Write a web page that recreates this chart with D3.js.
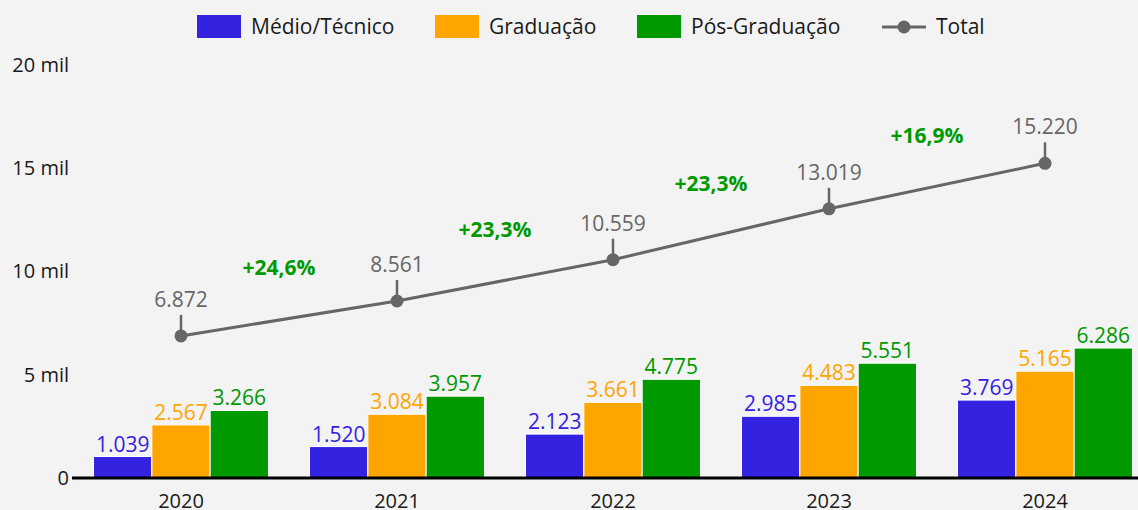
<!DOCTYPE html>
<html lang="pt">
  <head>
    <meta charset="utf-8"/>
    <title>Total por nível</title>
    <script src="https://cdn.jsdelivr.net/npm/d3@7"></script>
    <style>
      body { margin: 0; background: #f3f3f3; }
      svg { display: block; font-family: "Open Sans", "Noto Sans", sans-serif; }
    </style>
  </head>
  <body>
    <div id="chart"></div>
    <script type="text/javascript">

      // data
      var years = ["2020", "2021", "2022", "2023", "2024"];
      var series = ["Médio/Técnico", "Graduação", "Pós-Graduação"];
      var medio = [1039, 1520, 2123, 2985, 3769];
      var graduacao = [2567, 3084, 3661, 4483, 5165];
      var posGrad = [3266, 3957, 4775, 5551, 6286];
      var total = [6872, 8561, 10559, 13019, 15220];
      var growth = ["+24,6%", "+23,3%", "+23,3%", "+16,9%"];
      var yTicks = [0, 5000, 10000, 15000, 20000];
      var yTickLabels = ["0", "5 mil", "10 mil", "15 mil", "20 mil"];

      var colours = ["#3322e0", "#ffa500", "#009900"];
      var lineColour = "#666666";

      var w = 1138;
      var h = 510;

      var svg = d3.select("#chart")
        .append("svg")
        .attr("width", w)
        .attr("height", h)
      ;

      svg.append("rect")
        .attr("width", w)
        .attr("height", h)
        .attr("fill", "#f3f3f3")
      ;

      // scales
      var x0 = d3.scaleBand()
        .domain(years)
        .range([73, 1153])
        .paddingInner(0.19)
        .paddingOuter(0.095)
      ;
      var x1 = d3.scaleBand()
        .domain(series)
        .range([0, x0.bandwidth()])
      ;
      var y = d3.scaleLinear()
        .domain([0, 20000])
        .range([478, 64.5])
      ;

      // y labels
      svg.selectAll(".ylabel")
        .data(yTicks)
        .enter()
        .append("text")
        .attr("class", "ylabel")
        .attr("x", 69)
        .attr("y", function(d) { return y(d); })
        .attr("dy", "0.35em")
        .attr("text-anchor", "end")
        .attr("font-size", 20)
        .attr("fill", "#1a1a1a")
        .text(function(d, i) { return yTickLabels[i]; })
      ;

      // bars
      var seriesValues = [medio, graduacao, posGrad];
      var groups = svg.selectAll(".year")
        .data(years)
        .enter()
        .append("g")
        .attr("class", "year")
        .attr("transform", function(d) { return "translate(" + x0(d) + ",0)"; })
      ;
      groups.selectAll("rect")
        .data(function(d, i) {
          return series.map(function(s, j) { return {s: s, j: j, v: seriesValues[j][i]}; });
        })
        .enter()
        .append("rect")
        .attr("x", function(d) { return x1(d.s); })
        .attr("width", x1.bandwidth())
        .attr("y", function(d) { return y(d.v); })
        .attr("height", function(d) { return y(0) - y(d.v); })
        .attr("fill", function(d) { return colours[d.j]; })
        .attr("stroke", "#ffffff")
        .attr("stroke-width", 1)
      ;
      groups.selectAll("text.val")
        .data(function(d, i) {
          return series.map(function(s, j) { return {s: s, j: j, v: seriesValues[j][i]}; });
        })
        .enter()
        .append("text")
        .attr("class", "val")
        .attr("x", function(d) { return x1(d.s) + x1.bandwidth() / 2; })
        .attr("y", function(d) { return y(d.v) - 5; })
        .attr("text-anchor", "middle")
        .attr("font-size", 21)
        .attr("fill", function(d) { return colours[d.j]; })
        .text(function(d) { return d3.format(",")(d.v).replace(",", "."); })
      ;

      // baseline
      svg.append("line")
        .attr("x1", 72)
        .attr("x2", w)
        .attr("y1", y(0))
        .attr("y2", y(0))
        .attr("stroke", "#000")
        .attr("stroke-width", 3)
      ;

      // year labels
      svg.selectAll(".xlabel")
        .data(years)
        .enter()
        .append("text")
        .attr("class", "xlabel")
        .attr("x", function(d) { return x0(d) + x0.bandwidth() / 2; })
        .attr("y", 508)
        .attr("text-anchor", "middle")
        .attr("font-size", 20)
        .attr("fill", "#1a1a1a")
        .text(function(d) { return d; })
      ;

      // total line
      var cx = function(d, i) { return x0(years[i]) + x0.bandwidth() / 2; };
      var line = d3.line()
        .x(function(d, i) { return cx(d, i); })
        .y(function(d) { return y(d); })
      ;
      svg.append("path")
        .datum(total)
        .attr("d", line)
        .attr("fill", "none")
        .attr("stroke", lineColour)
        .attr("stroke-width", 3)
      ;
      svg.selectAll(".tick-up")
        .data(total)
        .enter()
        .append("line")
        .attr("class", "tick-up")
        .attr("x1", cx)
        .attr("x2", cx)
        .attr("y1", function(d) { return y(d); })
        .attr("y2", function(d) { return y(d) - 21; })
        .attr("stroke", lineColour)
        .attr("stroke-width", 2.5)
      ;
      svg.selectAll(".dot")
        .data(total)
        .enter()
        .append("circle")
        .attr("class", "dot")
        .attr("cx", cx)
        .attr("cy", function(d) { return y(d); })
        .attr("r", 6.5)
        .attr("fill", lineColour)
      ;
      svg.selectAll(".tot")
        .data(total)
        .enter()
        .append("text")
        .attr("class", "tot")
        .attr("x", cx)
        .attr("y", function(d) { return y(d) - 29; })
        .attr("text-anchor", "middle")
        .attr("font-size", 21)
        .attr("fill", lineColour)
        .text(function(d) { return d3.format(",")(d).replace(",", "."); })
      ;

      // growth labels between points
      svg.selectAll(".growth")
        .data(growth)
        .enter()
        .append("text")
        .attr("class", "growth")
        .attr("x", function(d, i) { return (cx(null, i) + cx(null, i + 1)) / 2 - 10; })
        .attr("y", function(d, i) { return (y(total[i]) + y(total[i + 1])) / 2 - 43; })
        .attr("text-anchor", "middle")
        .attr("font-size", 21)
        .attr("font-weight", "bold")
        .attr("fill", "#009900")
        .text(function(d) { return d; })
      ;

      // legend
      var legendX = [197, 435, 637];
      var legend = svg.append("g").attr("class", "legend");
      series.forEach(function(s, i) {
        legend.append("rect")
          .attr("x", legendX[i])
          .attr("y", 15)
          .attr("width", 44)
          .attr("height", 23)
          .attr("fill", colours[i])
        ;
        legend.append("text")
          .attr("x", legendX[i] + 54)
          .attr("y", 27)
          .attr("dy", "0.35em")
          .attr("font-size", 21)
          .attr("fill", "#1a1a1a")
          .text(s)
        ;
      });
      legend.append("line")
        .attr("x1", 882)
        .attr("x2", 926)
        .attr("y1", 27)
        .attr("y2", 27)
        .attr("stroke", lineColour)
        .attr("stroke-width", 3)
      ;
      legend.append("circle")
        .attr("cx", 904)
        .attr("cy", 27)
        .attr("r", 6.5)
        .attr("fill", lineColour)
      ;
      legend.append("text")
        .attr("x", 936)
        .attr("y", 27)
        .attr("dy", "0.35em")
        .attr("font-size", 21)
        .attr("fill", "#1a1a1a")
        .text("Total")
      ;
    </script>
  </body>
</html>
